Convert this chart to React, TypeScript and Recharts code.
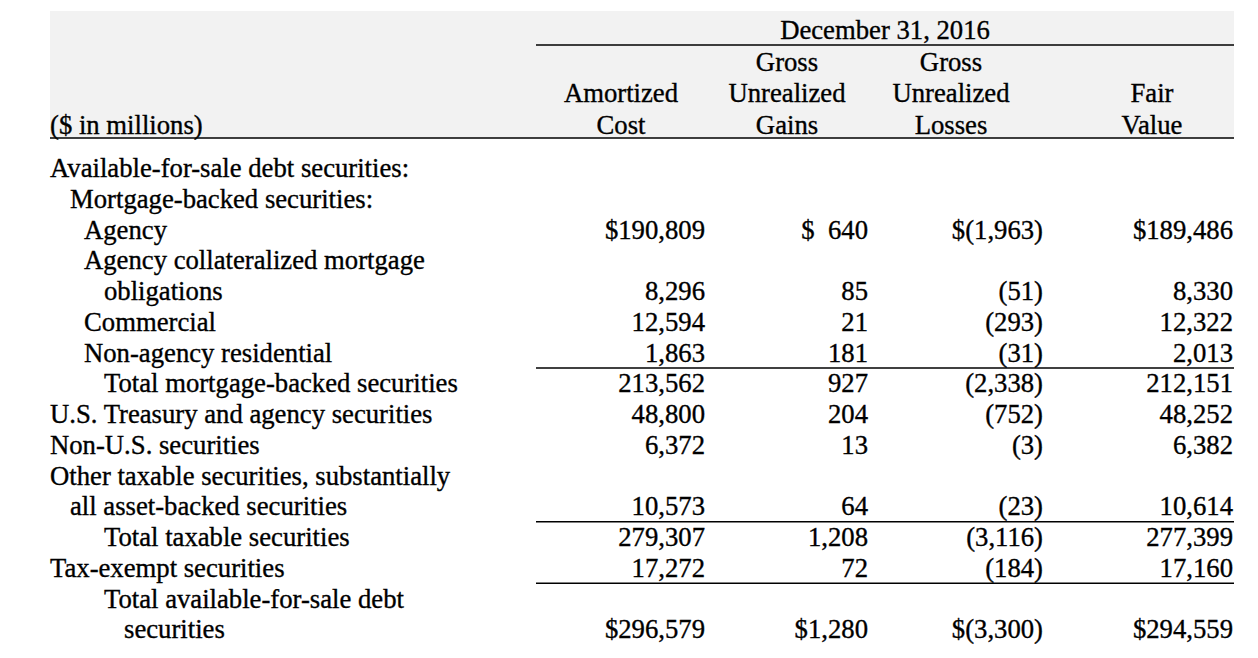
import { ComposedChart, Scatter, XAxis, YAxis, ReferenceArea, ReferenceLine } from 'recharts'

// rows of the table, top to bottom
const rowLabels = [
    'Available-for-sale debt securities:',
    'Mortgage-backed securities:',
    'Agency',
    'Agency collateralized mortgage',
    'obligations',
    'Commercial',
    'Non-agency residential',
    'Total mortgage-backed securities',
    'U.S. Treasury and agency securities',
    'Non-U.S. securities',
    'Other taxable securities, substantially',
    'all asset-backed securities',
    'Total taxable securities',
    'Tax-exempt securities',
    'Total available-for-sale debt',
    'securities',
]
const rowIndent = [0, 1, 2, 2, 3, 2, 2, 3, 0, 0, 0, 1, 3, 0, 3, 4]

const amortizedCost = [null, null, 190809, null, 8296, 12594, 1863, 213562, 48800, 6372, null, 10573, 279307, 17272, null, 296579]
const unrealizedGains = [null, null, 640, null, 85, 21, 181, 927, 204, 13, null, 64, 1208, 72, null, 1280]
const unrealizedLosses = [null, null, -1963, null, -51, -293, -31, -2338, -752, -3, null, -23, -3116, -184, null, -3300]
const fairValue = [null, null, 189486, null, 8330, 12322, 2013, 212151, 48252, 6382, null, 10614, 277399, 17160, null, 294559]
const dollarRows = [2, 15]

const periodTitle = 'December 31, 2016'
const columnHeaders = [
    ['', 'Amortized', 'Cost'],
    ['Gross', 'Unrealized', 'Gains'],
    ['Gross', 'Unrealized', 'Losses'],
    ['', 'Fair', 'Value'],
]
const unitLabel = '($ in millions)'
const underlinedAfter = [6, 11, 13]

// layout
const W = 1258
const H = 658
const FONT = '"Liberation Serif", "Times New Roman", serif'
const FONT_SIZE = 26.7
const BASE0 = 177
const ROW_H = 30.75
const toRow = (px: number) => (px - BASE0) / ROW_H
const INDENT_X = [50, 70, 84, 104, 124]
const COL_RIGHT = [705, 868, 1043, 1233]
const COL_CENTER = [621, 787, 951, 1152]
const HEADER_BASE = [71, 102, 134]

const fmt = (v: number, dollar: boolean) => {
    const s = Math.abs(v).toLocaleString('en-US')
    const body = v < 0 ? `(${s})` : s
    if (!dollar) return body
    return v >= 0 && Math.abs(v) < 1000 ? `$\u00a0\u00a0${body}` : `$${body}`
}

type Cell = { x: number; y: number; label: string; anchor: 'start' | 'middle' | 'end' }

const columns = [amortizedCost, unrealizedGains, unrealizedLosses, fairValue]

const cells: Cell[] = []
rowLabels.forEach((label, i) => {
    cells.push({ x: INDENT_X[rowIndent[i]], y: i, label, anchor: 'start' })
    columns.forEach((col, c) => {
        const v = col[i]
        if (v === null) return
        cells.push({ x: COL_RIGHT[c], y: i, label: fmt(v, dollarRows.includes(i)), anchor: 'end' })
    })
})
cells.push({ x: 50, y: toRow(HEADER_BASE[2]), label: unitLabel, anchor: 'start' })
cells.push({ x: 885, y: toRow(39), label: periodTitle, anchor: 'middle' })
columnHeaders.forEach((lines, c) => {
    lines.forEach((t, k) => {
        if (!t) return
        cells.push({ x: COL_CENTER[c], y: toRow(HEADER_BASE[k]), label: t, anchor: 'middle' })
    })
})

const TextCell = (props: any) => {
    const { cx, cy, payload } = props
    return (
        <text
            x={cx}
            y={cy}
            textAnchor={payload.anchor}
            fontFamily={FONT}
            fontSize={FONT_SIZE}
            fill="#000"
            stroke="#000"
            strokeWidth={0.35}
            style={{ whiteSpace: 'pre' }}
        >
            {payload.label}
        </text>
    )
}

export default function App() {
    return (
        <div style={{ position: 'absolute', left: 0, top: 0, width: W, height: H, background: '#fff' }}>
            <ComposedChart width={W} height={H} margin={{ top: 0, right: 0, bottom: 0, left: 0 }}>
                <XAxis type="number" dataKey="x" domain={[0, W]} hide allowDataOverflow />
                <YAxis type="number" dataKey="y" domain={[toRow(0), toRow(H)]} reversed hide allowDataOverflow />
                <ReferenceArea x1={50} x2={1234} y1={toRow(11)} y2={toRow(138)} fill="#f2f2f2" fillOpacity={1} stroke="none" />
                <ReferenceLine segment={[{ x: 536, y: toRow(45) }, { x: 1234, y: toRow(45) }]} stroke="#000" strokeWidth={1.5} />
                <ReferenceLine segment={[{ x: 50, y: toRow(138) }, { x: 1234, y: toRow(138) }]} stroke="#000" strokeWidth={1.5} />
                {underlinedAfter.map(r => (
                    <ReferenceLine
                        key={r}
                        segment={[{ x: 536, y: toRow(BASE0 + (r + 0.5) * ROW_H - 9) }, { x: 1234, y: toRow(BASE0 + (r + 0.5) * ROW_H - 9) }]}
                        stroke="#000"
                        strokeWidth={1.5}
                    />
                ))}
                <Scatter data={cells} shape={TextCell} isAnimationActive={false} />
            </ComposedChart>
        </div>
    )
}
